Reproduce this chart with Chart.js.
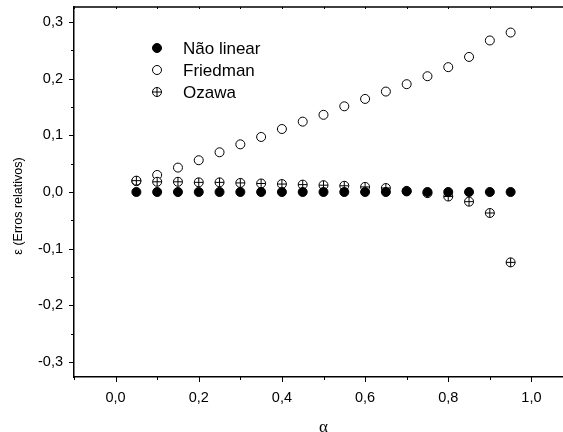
<!DOCTYPE html>
<html>
<head>
<meta charset="UTF-8">
<title>Erros relativos</title>
<script src="https://cdn.jsdelivr.net/npm/chart.js@4.4.1/dist/chart.umd.min.js"></script>
<style>
  html, body { margin: 0; padding: 0; background: #fff; overflow: hidden; }
  #box { width: 580px; height: 432px; }
</style>
</head>
<body>
<div id="box"><canvas id="grafico" width="580" height="432"></canvas></div>
<script>
// dados
var alfa = [0.05, 0.10, 0.15, 0.20, 0.25, 0.30, 0.35, 0.40, 0.45, 0.50,
            0.55, 0.60, 0.65, 0.70, 0.75, 0.80, 0.85, 0.90, 0.95];
var naoLinear = [0, 0, 0, 0, 0, 0, 0, 0, 0, 0, 0, 0, 0, 0.001, 0, 0, 0, 0, 0];
var friedman = [0.019, 0.030, 0.043, 0.056, 0.070, 0.084, 0.097, 0.111, 0.124, 0.136,
                0.151, 0.164, 0.177, 0.190, 0.204, 0.220, 0.238, 0.267, 0.281];
var ozawa = [0.020, 0.018, 0.018, 0.017, 0.017, 0.016, 0.015, 0.014, 0.013, 0.012,
             0.011, 0.009, 0.007, 0.002, -0.002, -0.008, -0.017, -0.037, -0.124];
var nomes = ['Não linear', 'Friedman', 'Ozawa'];
var tituloY = 'ε (Erros relativos)';
var xMin = -0.1, xMax = 1.1, yMin = -0.326, yMax = 0.326;

var fonte = '"Liberation Sans", Arial, sans-serif';

function pontos(ys) {
  return alfa.map(function (a, i) { return { x: a, y: ys[i] }; });
}

function ehMaior(v) {
  return Math.abs(v * 10 - Math.round(v * 10)) < 1e-6;
}

function virgula(v) {
  if (Math.abs(v) < 1e-9) return '0,0';
  return v.toFixed(1).replace('.', ',');
}

function marca(ctx, estilo, fundo, x, y) {
  ctx.fillStyle = fundo;
  ctx.strokeStyle = '#000';
  ctx.lineWidth = 1;
  Chart.helpers.drawPoint(ctx, { pointStyle: estilo, radius: 4.5, borderWidth: 1, rotation: 0 }, x, y);
}

// ticks menores/maiores, moldura de cima, titulo do eixo y e legenda
var moldura = {
  id: 'moldura',
  afterDraw: function (chart) {
    var ctx = chart.ctx, a = chart.chartArea;
    var sx = chart.scales.x, sy = chart.scales.y;
    ctx.save();
    ctx.strokeStyle = '#000';
    ctx.lineWidth = 1.5;
    ctx.beginPath();
    ctx.moveTo(a.left, a.top); ctx.lineTo(a.right, a.top); ctx.lineTo(a.right, a.bottom);
    ctx.stroke();
    ctx.lineWidth = 1;
    ctx.beginPath();
    sy.ticks.forEach(function (t) {
      var p = Math.round(sy.getPixelForValue(t.value)) + 0.5;
      var n = ehMaior(t.value) ? 5 : 3;
      ctx.moveTo(a.left - n, p); ctx.lineTo(a.left, p);
    });
    sx.ticks.forEach(function (t) {
      var p = Math.round(sx.getPixelForValue(t.value)) + 0.5;
      var n = ehMaior(t.value * 0.5) ? 5 : 3;
      ctx.moveTo(p, a.bottom); ctx.lineTo(p, a.bottom + n);
      ctx.moveTo(p, a.top); ctx.lineTo(p, a.top + 2);
    });
    ctx.stroke();

    // titulo do eixo y (um pouco abaixo do centro, como no original)
    ctx.save();
    ctx.translate(19, 206);
    ctx.rotate(-Math.PI / 2);
    ctx.fillStyle = '#000';
    ctx.font = '12.5px ' + fonte;
    ctx.textAlign = 'center';
    ctx.textBaseline = 'middle';
    ctx.fillText(tituloY, 0, 0);
    ctx.restore();

    // legenda
    var lx = 157, ly = 48, passo = 22;
    ctx.font = '17px ' + fonte;
    ctx.textBaseline = 'middle';
    ctx.textAlign = 'left';
    marca(ctx, 'circle', '#000', lx, ly);
    marca(ctx, 'circle', '#fff', lx, ly + passo);
    marca(ctx, 'circle', '#fff', lx, ly + 2 * passo);
    marca(ctx, 'cross', '#fff', lx, ly + 2 * passo);
    ctx.fillStyle = '#000';
    nomes.forEach(function (n, k) {
      ctx.fillText(n, 183, ly + k * passo + 1);
    });
    ctx.restore();
  }
};

var ctx = document.getElementById('grafico');
var grafico = new Chart(ctx, {
  type: 'scatter',
  data: {
    datasets: [{
      label: nomes[0],
      data: pontos(naoLinear),
      pointStyle: 'circle',
      pointRadius: 4.5,
      pointBorderWidth: 1,
      pointBackgroundColor: '#000',
      pointBorderColor: '#000',
      order: 0
    }, {
      label: nomes[2],
      data: pontos(ozawa),
      pointStyle: 'cross',
      pointRadius: 4.5,
      pointBorderWidth: 1,
      pointBorderColor: '#000',
      order: 1
    }, {
      label: nomes[2],
      data: pontos(ozawa),
      pointStyle: 'circle',
      pointRadius: 4.5,
      pointBorderWidth: 1,
      pointBackgroundColor: '#fff',
      pointBorderColor: '#000',
      order: 2
    }, {
      label: nomes[1],
      data: pontos(friedman),
      pointStyle: 'circle',
      pointRadius: 4.5,
      pointBorderWidth: 1,
      pointBackgroundColor: '#fff',
      pointBorderColor: '#000',
      order: 3
    }]
  },
  options: {
    responsive: false,
    animation: false,
    devicePixelRatio: 1,
    layout: { padding: { left: 0, top: 7, right: 7, bottom: 0 } },
    plugins: {
      legend: { display: false },
      tooltip: { enabled: false }
    },
    scales: {
      x: {
        type: 'linear',
        min: xMin,
        max: xMax,
        afterFit: function (s) { s.height = 55; s.paddingLeft = 0; s.paddingRight = 0; },
        grid: { display: false, drawTicks: false },
        border: { display: true, color: '#000', width: 1.5 },
        ticks: {
          stepSize: 0.1,
          includeBounds: false,
          autoSkip: false,
          maxRotation: 0,
          padding: 12,
          color: '#000',
          font: { family: fonte, size: 14.5 },
          callback: function (v) {
            if (v < -1e-6 || v > 1 + 1e-6) return '';
            return ehMaior(v * 0.5) ? virgula(v) : '';
          }
        },
        title: {
          display: true,
          text: 'α',
          color: '#000',
          font: { family: '"Liberation Serif", "DejaVu Serif", serif', size: 17 },
          padding: { top: 0, bottom: -6 }
        }
      },
      y: {
        type: 'linear',
        min: yMin,
        max: yMax,
        afterFit: function (s) { s.width = 74; s.paddingTop = 0; s.paddingBottom = 0; },
        grid: { display: false, drawTicks: false },
        border: { display: true, color: '#000', width: 1.5 },
        ticks: {
          stepSize: 0.05,
          includeBounds: false,
          autoSkip: false,
          padding: 11,
          color: '#000',
          font: { family: fonte, size: 14.5 },
          callback: function (v) { return ehMaior(v) ? virgula(v) : ''; }
        }
      }
    }
  },
  plugins: [moldura]
});
</script>
</body>
</html>
